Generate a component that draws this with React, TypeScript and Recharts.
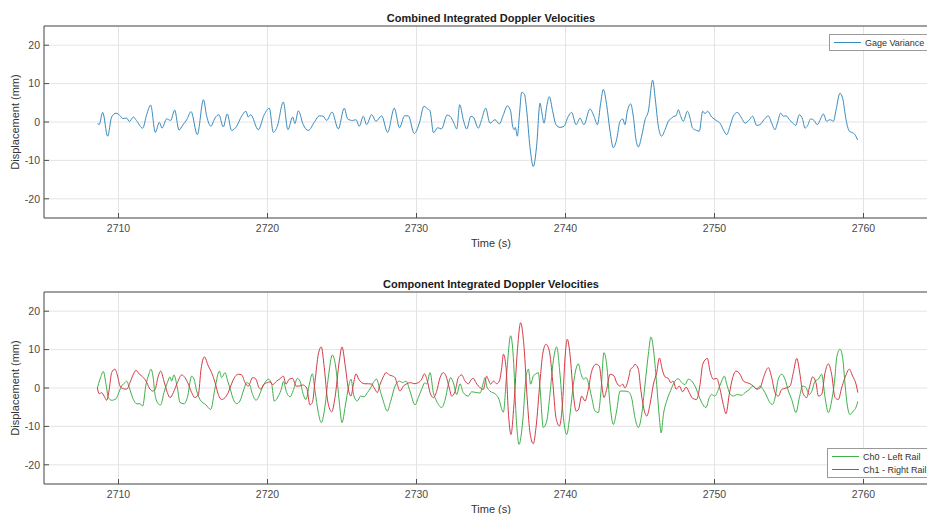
import { LineChart, Line, XAxis, YAxis, CartesianGrid, Legend, Label } from "recharts"

// axis ticks
const timeTicks = [2710, 2720, 2730, 2740, 2750, 2760]
const dispTicks = [-20, -10, 0, 10, 20]

// [time (s), displacement (mm)]
const gageVariance: [number, number][] = [
  [2708.6, -0.3], [2708.7, -0.7], [2708.94, 2.5], [2709.27, -3.7], [2709.54, 1.3], [2709.83, 2.3], [2710.14, 1.5],
  [2710.28, 0.9], [2710.55, 1.0], [2710.73, 0.1], [2711.0, 1.3], [2711.2, 0.4], [2711.62, -1.6], [2711.89, 1.9],
  [2712.16, 4.4], [2712.47, -2.7], [2712.74, -0.1], [2712.92, -1.6], [2713.23, 0.8], [2713.5, 0.4], [2713.77, 3.1],
  [2714.06, -2.1], [2714.31, -0.8], [2714.58, 0.6], [2714.87, 2.7], [2715.29, -3.3], [2715.7, 5.8], [2715.92, 1.5],
  [2716.2, -1.1], [2716.47, 1.0], [2716.74, 1.9], [2717.03, -1.3], [2717.3, 2.1], [2717.59, -2.2], [2717.93, -1.1],
  [2718.26, 1.5], [2718.55, 2.8], [2718.71, 1.3], [2718.87, 1.9], [2719.38, -2.0], [2719.78, 1.9], [2720.12, 3.6],
  [2720.39, -2.7], [2720.66, -1.1], [2721.06, 5.2], [2721.37, -2.0], [2721.69, 1.3], [2721.84, -0.4], [2722.07, 2.9],
  [2722.4, -0.7], [2722.74, -2.2], [2723.18, 0.2], [2723.47, 1.6], [2723.74, 1.5], [2723.97, 0.4], [2724.33, 2.6],
  [2724.75, -1.8], [2725.15, 3.6], [2725.38, 0.8], [2725.71, 0.4], [2725.94, 0.6], [2726.16, -1.1], [2726.43, 1.5],
  [2726.65, -0.7], [2726.99, 1.9], [2727.28, 0.2], [2727.66, 1.6], [2728.06, -2.7], [2728.51, 3.6], [2728.86, -1.5],
  [2729.2, 1.6], [2729.45, 1.6], [2729.85, -3.0], [2730.19, -0.3], [2730.5, 4.1], [2730.75, 3.4], [2730.9, 3.0],
  [2731.14, -2.8], [2731.42, -1.5], [2731.68, -1.8], [2732.05, 1.8], [2732.25, 1.5], [2732.5, -0.2], [2732.7, -1.8],
  [2732.9, 4.5], [2733.14, 0.6], [2733.37, -1.8], [2733.65, 1.5], [2733.81, 1.3], [2734.15, -1.6], [2734.37, 0.6],
  [2734.64, 3.6], [2734.93, -0.3], [2735.27, 0.6], [2735.56, -0.5], [2735.83, 1.9], [2736.1, 4.2], [2736.32, 2.8],
  [2736.45, -1.1], [2736.57, -2.0], [2736.63, -1.4], [2736.77, -3.7], [2736.9, 1.5], [2737.06, 7.7], [2737.24, 7.3],
  [2737.39, 3.2], [2737.62, -6.7], [2737.84, -11.6], [2738.06, -6.3], [2738.29, 4.9], [2738.4, 2.8], [2738.56, -0.3],
  [2738.74, 4.1], [2738.91, 6.6], [2739.14, 2.8], [2739.36, -0.7], [2739.63, -1.4], [2739.9, -1.1], [2740.19, 1.5],
  [2740.41, 2.5], [2740.71, -0.7], [2740.97, 1.0], [2741.24, -0.7], [2741.64, 3.4], [2741.91, 1.5], [2742.14, -0.7],
  [2742.36, 4.9], [2742.54, 8.5], [2742.76, 4.5], [2742.99, -2.4], [2743.21, -6.7], [2743.43, -4.6], [2743.66, 0.2],
  [2743.84, 0.8], [2743.99, -0.7], [2744.15, 2.8], [2744.37, 4.7], [2744.55, 1.5], [2744.73, -4.6], [2744.89, -6.5],
  [2745.11, -3.7], [2745.34, 0.6], [2745.56, 2.8], [2745.85, 10.9], [2746.03, 5.8], [2746.23, -1.1], [2746.45, -3.7],
  [2746.68, -2.0], [2746.9, 0.2], [2747.12, 1.0], [2747.28, 1.5], [2747.42, 1.6], [2747.57, 3.2], [2747.73, 1.5],
  [2747.91, 0.2], [2748.18, 2.8], [2748.36, 1.0], [2748.53, -1.6], [2748.8, -2.2], [2748.98, -2.4], [2749.21, 2.8],
  [2749.36, 2.2], [2749.54, 2.8], [2749.81, 1.3], [2749.97, 0.8], [2750.19, 0.2], [2750.37, -0.3], [2750.59, -2.0],
  [2750.82, -3.3], [2751.04, -1.1], [2751.26, 1.5], [2751.53, 2.5], [2751.82, 1.0], [2752.05, -0.3], [2752.34, 0.6],
  [2752.56, 1.5], [2752.83, -0.9], [2753.05, -0.7], [2753.32, 0.6], [2753.61, 1.6], [2753.84, -0.3], [2754.06, -2.0],
  [2754.22, -0.3], [2754.44, 2.3], [2754.62, 1.5], [2754.8, 1.6], [2755.07, 0.4], [2755.29, -0.4], [2755.45, -0.9],
  [2755.69, 1.9], [2755.92, 0.6], [2756.07, -1.6], [2756.25, -0.9], [2756.45, 0.8], [2756.68, 0.4], [2756.9, -0.7],
  [2757.12, 0.8], [2757.3, 2.1], [2757.53, 0.2], [2757.75, 0.6], [2757.98, 0.2], [2758.16, 3.2], [2758.42, 7.5],
  [2758.6, 6.2], [2758.83, 0.6], [2759.05, -2.4], [2759.27, -2.8], [2759.43, -3.3], [2759.6, -4.7],
]

const ch0LeftRail: [number, number][] = [
  [2708.58, 0], [2708.76, 2.3], [2708.98, 4.3], [2709.16, 1.0], [2709.32, -2.5], [2709.54, -3.2], [2709.83, -2.8],
  [2710.06, -0.8], [2710.21, 0.5], [2710.44, 1.4], [2710.55, 1.8], [2710.73, 0], [2711.0, -3.0], [2711.22, -4.1],
  [2711.44, -4.1], [2711.62, -4.7], [2711.85, 1.0], [2712.0, 3.1], [2712.18, 4.9], [2712.34, 2.3], [2712.45, -1.7],
  [2712.67, -4.1], [2712.83, -4.4], [2713.05, -1.2], [2713.28, 1.4], [2713.46, 2.9], [2713.57, 1.8], [2713.72, 3.4],
  [2713.95, 0], [2714.13, -3.8], [2714.4, -4.1], [2714.62, -2.5], [2714.91, 3.1], [2715.07, 2.3], [2715.25, -0.8],
  [2715.47, -3.0], [2715.87, -4.4], [2716.19, -5.6], [2716.48, 0], [2716.77, 4.4], [2716.92, 2.7], [2717.15, 4.0],
  [2717.33, 1.8], [2717.48, 0], [2717.71, -3.0], [2717.93, -4.1], [2718.15, -3.4], [2718.42, -0.3], [2718.6, 1.4],
  [2718.78, 1.0], [2719.0, -1.7], [2719.23, -3.2], [2719.38, -2.5], [2719.61, -0.3], [2719.83, 1.4], [2720.06, 2.3],
  [2720.28, 1.0], [2720.45, -3.4], [2720.73, -2.1], [2720.95, 0], [2721.06, 1.7], [2721.29, -1.2], [2721.51, -2.3],
  [2721.78, 0], [2722.0, 2.5], [2722.18, 1.8], [2722.4, -1.7], [2722.58, -3.0], [2722.81, 1.0], [2723.01, 3.7],
  [2723.19, -0.8], [2723.41, -6.4], [2723.61, -9.0], [2723.86, -4.7], [2724.08, 2.7], [2724.35, 8.6], [2724.6, 4.9],
  [2724.82, -3.8], [2725.0, -9.0], [2725.22, -4.7], [2725.45, 0.5], [2725.6, 2.3], [2725.8, -2.1], [2726.03, -3.4],
  [2726.25, -2.1], [2726.48, -2.3], [2726.7, -1.2], [2726.92, 0], [2727.1, 1.4], [2727.33, 2.3], [2727.51, 0],
  [2727.77, -3.4], [2728.04, -6.0], [2728.27, -3.4], [2728.56, 0.5], [2728.85, 1.8], [2729.07, 1.4], [2729.3, 1.8],
  [2729.56, -0.8], [2729.9, -4.4], [2730.12, -2.5], [2730.35, -0.3], [2730.57, 1.4], [2730.68, 1.0], [2730.91, 4.0],
  [2731.13, -1.2], [2731.35, -3.4], [2731.69, -5.1], [2731.91, -3.2], [2732.14, 1.0], [2732.29, 2.7], [2732.47, 1.4],
  [2732.7, -1.7], [2732.92, 1.1], [2733.14, -1.2], [2733.48, -2.1], [2733.7, -1.0], [2733.9, -1.1], [2734.26, -1.3],
  [2734.49, 1.4], [2734.6, 2.7], [2734.71, 0.5], [2734.93, -0.8], [2735.27, -1.5], [2735.49, -2.5], [2735.83, -6.3],
  [2736.05, 3.6], [2736.32, 13.6], [2736.5, 7.9], [2736.68, -6.9], [2736.88, -14.7], [2737.13, -8.6], [2737.35, 2.7],
  [2737.51, 4.9], [2737.66, 1.0], [2737.84, 3.1], [2738.02, 3.7], [2738.18, 4.0], [2738.29, 0], [2738.51, -10.3],
  [2738.74, -8.6], [2738.96, -1.5], [2739.18, 7.0], [2739.41, 10.7], [2739.63, 3.6], [2739.86, -7.7], [2740.08, -12.1],
  [2740.3, -6.9], [2740.53, 1.0], [2740.7, 4.9], [2740.86, 6.3], [2741.02, 4.0], [2741.2, 2.3], [2741.38, 2.7],
  [2741.53, 1.4], [2741.76, -2.5], [2741.98, -6.0], [2742.2, -6.4], [2742.38, -0.9], [2742.58, 9.2], [2742.76, 6.2],
  [2742.99, -4.3], [2743.21, -9.5], [2743.43, -6.0], [2743.66, -0.8], [2743.93, -0.8], [2744.22, -1.0], [2744.44, -2.6],
  [2744.66, -7.7], [2744.89, -10.3], [2745.11, -7.0], [2745.34, 1.0], [2745.56, 8.8], [2745.74, 13.3], [2745.94, 8.8],
  [2746.12, 0.9], [2746.3, -7.7], [2746.42, -11.7], [2746.57, -6.9], [2746.79, -3.4], [2747.06, -0.6], [2747.35, 1.8],
  [2747.57, 2.4], [2747.8, 1.4], [2748.02, 0.9], [2748.24, 2.3], [2748.47, 1.8], [2748.69, 0.5], [2748.92, -1.7],
  [2749.14, -3.8], [2749.43, -5.1], [2749.65, -2.5], [2749.81, -1.7], [2750.03, -2.1], [2750.26, -0.4], [2750.48, 1.8],
  [2750.66, 3.1], [2750.82, 1.0], [2751.04, -1.5], [2751.26, -2.1], [2751.53, -1.7], [2751.82, -1.9], [2752.05, -1.2],
  [2752.34, -0.4], [2752.56, 0.5], [2752.83, -0.2], [2753.05, 0.5], [2753.27, -0.4], [2753.5, -2.1], [2753.72, -3.8],
  [2753.9, -4.3], [2754.06, -2.6], [2754.28, 2.3], [2754.51, 3.6], [2754.73, 2.3], [2754.96, -0.8], [2755.18, -3.0],
  [2755.47, -6.4], [2755.69, -2.6], [2755.92, 0.5], [2756.14, 0.1], [2756.36, -1.7], [2756.52, -0.9], [2756.75, 1.8],
  [2756.97, 2.3], [2757.19, 3.6], [2757.42, -2.5], [2757.64, -6.4], [2757.86, -3.4], [2758.09, 3.1], [2758.2, 7.9],
  [2758.42, 10.1], [2758.6, 7.9], [2758.76, 1.0], [2758.92, -4.7], [2759.09, -6.9], [2759.32, -6.0], [2759.5, -5.0],
  [2759.62, -3.5],
]

const ch1RightRail: [number, number][] = [
  [2708.58, 0], [2708.71, -1.5], [2708.87, -1.2], [2709.03, -2.1], [2709.21, -3.2], [2709.38, -0.3], [2709.54, 4.0],
  [2709.76, 4.9], [2709.94, 3.1], [2710.1, 0.5], [2710.32, -0.2], [2710.55, -0.3], [2710.77, 1.4], [2711.0, 3.6],
  [2711.17, 4.6], [2711.4, 3.6], [2711.62, 2.9], [2711.85, 1.8], [2712.07, 0], [2712.29, -0.8], [2712.45, -0.4],
  [2712.67, 3.1], [2712.83, 4.4], [2713.05, 1.8], [2713.28, -1.2], [2713.46, -2.5], [2713.68, -1.2], [2713.95, 1.4],
  [2714.24, 3.4], [2714.46, 2.7], [2714.69, 1.0], [2714.91, -1.2], [2715.13, -2.5], [2715.36, -1.7], [2715.54, 4.9],
  [2715.76, 8.1], [2716.03, 5.7], [2716.25, 4.0], [2716.48, 1.4], [2716.7, -1.7], [2716.92, -3.0], [2717.15, -2.5],
  [2717.33, -1.5], [2717.53, 0.5], [2717.75, 2.5], [2718.04, 3.6], [2718.27, 3.4], [2718.49, 1.4], [2718.71, 0.5],
  [2719.0, 2.7], [2719.23, 2.3], [2719.38, 0.5], [2719.54, -0.3], [2719.76, 1.0], [2719.99, 1.4], [2720.17, 1.6],
  [2720.35, 0.9], [2720.62, 1.8], [2720.84, 2.4], [2721.06, 3.1], [2721.24, 1.0], [2721.46, 2.3], [2721.69, 2.5],
  [2721.91, 0.5], [2722.14, 0.5], [2722.36, 0.8], [2722.63, 0], [2722.85, -4.4], [2723.01, -3.8], [2723.19, 1.8],
  [2723.41, 8.8], [2723.61, 10.7], [2723.81, 5.3], [2724.04, -3.4], [2724.31, -6.2], [2724.53, -2.5], [2724.82, 7.0],
  [2725.0, 10.7], [2725.22, 5.7], [2725.45, -0.8], [2725.6, -2.1], [2725.76, 0.9], [2725.94, 3.7], [2726.12, 2.3],
  [2726.32, 1.4], [2726.54, 1.1], [2726.77, 1.1], [2726.99, 1.0], [2727.21, -0.3], [2727.37, -1.2], [2727.55, 0.9],
  [2727.77, 2.9], [2727.95, 4.0], [2728.18, 3.4], [2728.4, 3.1], [2728.56, 2.7], [2728.71, 0.9], [2728.89, -0.8],
  [2729.12, 0.5], [2729.34, 1.1], [2729.61, 1.4], [2729.83, 1.1], [2730.12, 1.4], [2730.35, 2.3], [2730.53, 3.7],
  [2730.73, 1.8], [2730.91, -1.2], [2731.13, -2.5], [2731.35, -0.9], [2731.58, 2.7], [2731.8, 4.0], [2731.98, 3.1],
  [2732.2, 0], [2732.36, -2.1], [2732.58, -1.0], [2732.81, 2.7], [2733.03, 3.4], [2733.26, 1.8], [2733.48, 1.1],
  [2733.7, 2.3], [2733.81, 2.5], [2733.99, 1.4], [2734.15, 0.5], [2734.31, 0], [2734.49, -0.4], [2734.6, 1.4],
  [2734.71, 3.1], [2734.82, 2.2], [2734.98, 1.0], [2735.16, 1.8], [2735.38, 1.1], [2735.56, 1.8], [2735.72, 5.3],
  [2735.83, 8.8], [2736.01, 5.3], [2736.16, -6.0], [2736.34, -12.1], [2736.54, -4.3], [2736.77, 9.7], [2736.99, 17.0],
  [2737.22, 10.5], [2737.44, -3.4], [2737.62, -11.7], [2737.84, -14.5], [2738.02, -10.3], [2738.29, 1.8], [2738.47, 8.8],
  [2738.69, 11.4], [2738.91, 9.7], [2739.14, 1.8], [2739.36, -7.7], [2739.59, -9.9], [2739.81, -3.4], [2739.97, 7.9],
  [2740.12, 12.7], [2740.3, 8.8], [2740.53, -1.7], [2740.71, -6.0], [2740.86, -5.7], [2741.09, -2.1], [2741.31, -3.4],
  [2741.53, -0.4], [2741.76, 4.4], [2742.05, 6.2], [2742.27, 5.7], [2742.43, 1.0], [2742.58, -2.5], [2742.76, -0.4],
  [2742.99, 3.6], [2743.26, 3.1], [2743.43, 1.4], [2743.66, 0.5], [2743.84, 1.0], [2743.99, 0], [2744.22, 2.3],
  [2744.37, 4.9], [2744.55, 5.5], [2744.66, 6.2], [2744.89, 4.9], [2745.05, -0.3], [2745.22, -4.7], [2745.45, -7.3],
  [2745.67, -4.3], [2745.9, 1.0], [2746.12, 4.0], [2746.3, 7.8], [2746.52, 4.4], [2746.68, 2.9], [2746.9, 2.5],
  [2747.06, 1.4], [2747.24, 1.8], [2747.42, -0.3], [2747.64, 0.5], [2747.86, -1.0], [2748.09, 0.2], [2748.31, -1.2],
  [2748.53, -2.7], [2748.8, -3.0], [2749.03, 0.9], [2749.21, 6.2], [2749.52, 7.7], [2749.7, 4.4], [2749.92, 2.3],
  [2750.15, 2.5], [2750.37, -0.3], [2750.59, -4.3], [2750.77, -6.7], [2750.99, -1.7], [2751.22, 2.7], [2751.44, 4.4],
  [2751.71, 3.6], [2751.94, 1.8], [2752.16, 1.4], [2752.38, 1.1], [2752.61, 0.5], [2752.83, -0.3], [2753.05, 0],
  [2753.32, 3.1], [2753.61, 5.3], [2753.84, 2.7], [2754.06, -1.2], [2754.28, -2.1], [2754.51, -0.4], [2754.8, 0],
  [2755.07, 0.5], [2755.29, 4.0], [2755.52, 7.7], [2755.74, 3.5], [2755.92, -1.2], [2756.19, -2.5], [2756.36, 0],
  [2756.59, 2.9], [2756.81, 1.4], [2756.97, -2.1], [2757.19, -1.7], [2757.42, 4.0], [2757.64, 6.3], [2757.86, 3.6],
  [2758.09, -2.5], [2758.31, -3.0], [2758.53, 0], [2758.76, 2.7], [2759.05, 4.9], [2759.27, 3.1], [2759.5, 1.0],
  [2759.62, -1.2],
]

const FONT = "'Liberation Sans', Arial, Helvetica, sans-serif"
const AXIS = "#4f4f4f"
const TICK_TEXT = "#4a4a4a"
// centre of the plotting area (plot runs from x=44 to x=938)
const PLOT_CX = 491

type Series = { name: string; color: string; points: [number, number][] }

const toRows = (pts: [number, number][]) => pts.map(([t, v]) => ({ t, v }))

function LegendBox({ series }: { series: Series[] }) {
  return (
    <div style={{ border: "1px solid #9a9a9a", background: "#fff", padding: "1px 0 1px 4px", fontFamily: FONT }}>
      {series.map((s) => (
        <div key={s.name} style={{ display: "flex", alignItems: "center", height: 13 }}>
          <svg width={27} height={3}>
            <line x1={0} x2={27} y1={1.5} y2={1.5} stroke={s.color} strokeWidth={1} />
          </svg>
          <span style={{ marginLeft: 4, fontSize: 9, color: "#333", whiteSpace: "nowrap" }}>{s.name}</span>
        </div>
      ))}
    </div>
  )
}

function Panel({ title, series, legendTop, legendLeft }: { title: string; series: Series[]; legendTop: number; legendLeft: number }) {
  return (
    <LineChart width={940} height={257} margin={{ top: 25, right: 2, bottom: 0, left: 0 }}>
      <CartesianGrid stroke="#e4e4e4" />
      <XAxis
        dataKey="t"
        type="number"
        domain={[2705, 2765]}
        ticks={timeTicks}
        height={39}
        tickSize={-5}
        tickMargin={12}
        stroke={AXIS}
        tick={{ fill: TICK_TEXT, fontSize: 10.5, fontFamily: FONT }}
        allowDataOverflow
      >
        <Label
          content={(p: any) => (
            <text x={p.viewBox.x + p.viewBox.width / 2} y={p.viewBox.y + 29} textAnchor="middle" fontSize={11} fontFamily={FONT} fill="#333">
              Time (s)
            </text>
          )}
        />
      </XAxis>
      <XAxis
        xAxisId="top"
        orientation="top"
        dataKey="t"
        type="number"
        domain={[2705, 2765]}
        ticks={timeTicks}
        height={1}
        tickSize={-5}
        tick={() => <g />}
        stroke={AXIS}
      />
      <YAxis
        type="number"
        domain={[-25, 25]}
        ticks={dispTicks}
        width={44}
        tickSize={-5}
        tickMargin={9}
        stroke={AXIS}
        tick={{ fill: TICK_TEXT, fontSize: 10.5, fontFamily: FONT }}
      >
        <Label
          content={(p: any) => {
            const cy = p.viewBox.y + p.viewBox.height / 2
            return (
              <g>
                <text x={15} y={cy} transform={`rotate(-90 15 ${cy})`} textAnchor="middle" dominantBaseline="central" fontSize={11} fontFamily={FONT} fill="#333">
                  Displacement (mm)
                </text>
                <text x={PLOT_CX} y={p.viewBox.y - 4.5} textAnchor="middle" fontSize={11} fontWeight="bold" fontFamily={FONT} fill="#1a1a1a">
                  {title}
                </text>
              </g>
            )
          }}
        />
      </YAxis>
      {series.map((s) => (
        <Line
          key={s.name}
          data={toRows(s.points)}
          dataKey="v"
          name={s.name}
          type="monotone"
          stroke={s.color}
          strokeWidth={1}
          dot={false}
          activeDot={false}
          isAnimationActive={false}
        />
      ))}
      <Legend
        layout="vertical"
        align="center"
        verticalAlign="middle"
        wrapperStyle={{ top: legendTop, left: legendLeft, width: 130 }}
        content={() => <LegendBox series={series} />}
      />
    </LineChart>
  )
}

const topSeries: Series[] = [{ name: "Gage Variance", color: "#3a8bbd", points: gageVariance }]
const bottomSeries: Series[] = [
  { name: "Ch0 - Left Rail", color: "#3fb04a", points: ch0LeftRail },
  { name: "Ch1 - Right Rail", color: "#d43a47", points: ch1RightRail },
]

export default function App() {
  return (
    <div style={{ position: "fixed", left: 0, top: 0, width: 927, height: 514, overflow: "hidden", background: "#fff" }}>
      <div style={{ position: "absolute", left: 0, top: 0 }}>
        <Panel title="Combined Integrated Doppler Velocities" series={topSeries} legendTop={34} legendLeft={829} />
      </div>
      <div style={{ position: "absolute", left: 0, top: 266 }}>
        <Panel title="Component Integrated Doppler Velocities" series={bottomSeries} legendTop={182} legendLeft={827} />
      </div>
    </div>
  )
}
